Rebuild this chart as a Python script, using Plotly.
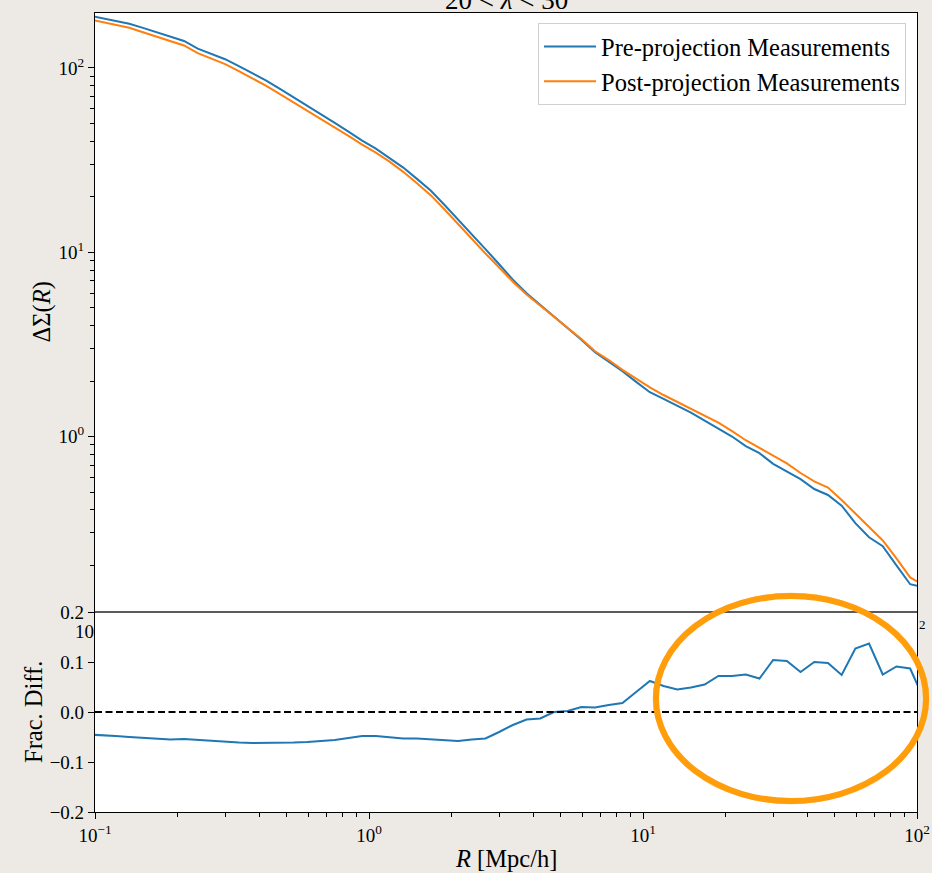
import plotly.graph_objects as go

# ---------------- data ----------------
R = [0.0944, 0.1059, 0.1189, 0.1334, 0.1496, 0.1679, 0.1884, 0.2113, 0.2371, 0.2661,
     0.2985, 0.3350, 0.3758, 0.4217, 0.4732, 0.5309, 0.5957, 0.6683, 0.7499, 0.8414,
     0.9441, 1.0593, 1.1885, 1.3335, 1.4962, 1.6788, 1.8836, 2.1135, 2.3714, 2.6607,
     2.9854, 3.3497, 3.7584, 4.2170, 4.7315, 5.3088, 5.9566, 6.6834, 7.4989, 8.4140,
     9.4406, 10.593, 11.885, 13.335, 14.962, 16.788, 18.836, 21.135, 23.714, 26.607,
     29.854, 33.497, 37.584, 42.170, 47.315, 53.088, 59.566, 66.834, 74.989, 84.140,
     94.406, 105.93]

pre_projection = [193.0, 186.6, 180.0, 173.7, 164.9, 156.5, 148.4, 140.0, 127.3, 119.3,
                  111.5, 102.4, 93.9, 85.2, 76.9, 69.3, 62.1, 55.8, 50.3, 45.1,
                  40.3, 36.5, 32.6, 28.8, 25.0, 21.6, 18.1, 15.1, 12.5, 10.4,
                  8.61, 7.10, 5.99, 5.19, 4.49, 3.89, 3.35, 2.87, 2.56, 2.26,
                  1.98, 1.74, 1.60, 1.47, 1.35, 1.22, 1.11, 1.00, 0.888, 0.813,
                  0.711, 0.649, 0.587, 0.519, 0.482, 0.422, 0.339, 0.284, 0.254, 0.200,
                  0.158, 0.152]

post_projection = [184.3, 178.0, 171.4, 165.0, 156.3, 148.2, 140.2, 132.4, 120.2, 112.4,
                   104.9, 96.2, 88.1, 79.9, 72.1, 65.1, 58.4, 52.6, 47.5, 42.8,
                   38.4, 34.7, 31.0, 27.3, 23.7, 20.4, 17.1, 14.2, 11.8, 9.85,
                   8.27, 6.92, 5.90, 5.12, 4.49, 3.90, 3.38, 2.90, 2.60, 2.30,
                   2.06, 1.85, 1.68, 1.54, 1.42, 1.29, 1.19, 1.07, 0.955, 0.867,
                   0.785, 0.715, 0.634, 0.571, 0.529, 0.453, 0.382, 0.323, 0.273, 0.218,
                   0.172, 0.156]

frac_diff = [-0.045, -0.046, -0.048, -0.050, -0.052, -0.053, -0.055, -0.054, -0.056, -0.058,
             -0.059, -0.061, -0.062, -0.062, -0.062, -0.061, -0.060, -0.058, -0.056, -0.052,
             -0.048, -0.048, -0.050, -0.053, -0.053, -0.055, -0.057, -0.058, -0.055, -0.053,
             -0.040, -0.026, -0.015, -0.013, 0.000, 0.002, 0.010, 0.009, 0.014, 0.018,
             0.040, 0.062, 0.052, 0.045, 0.049, 0.055, 0.072, 0.072, 0.075, 0.067,
             0.104, 0.102, 0.080, 0.100, 0.098, 0.074, 0.127, 0.137, 0.075, 0.091,
             0.087, 0.026]

top_y_tickvals = [1, 10, 100]
top_y_ticktext = ["10<sup>0</sup>", "10<sup>1</sup>", "10<sup>2</sup>"]
x_tickvals = [0.1, 1, 10, 100]
x_ticktext = ["10<sup>\u22121</sup>", "10<sup>0</sup>", "10<sup>1</sup>", "10<sup>2</sup>"]
bot_y_tickvals = [-0.2, -0.1, 0.0, 0.1, 0.2]
bot_y_ticktext = ["\u22120.2", "\u22120.1", "0.0", "0.1", "0.2"]
minor_log = [m * 10 ** e for e in (-1, 0, 1) for m in range(2, 10)]

# ---------------- layout geometry ----------------
W, H = 932, 873
ML, MR, MT, MB = 95, 15, 13, 61
PW, PH = W - ML - MR, H - MT - MB


def px_x(px):
    return (px - ML) / PW


def px_y(py):
    return (H - MB - py) / PH


split = px_y(612)
FONT = "Liberation Serif, Times New Roman, serif"
BG = "#edeae5"
LABEL_SIZE = 24.5

fig = go.Figure()
fig.add_trace(go.Scatter(x=R, y=pre_projection, mode="lines", name="Pre-projection Measurements",
                         line=dict(color="#1f77b4", width=2), xaxis="x", yaxis="y"))
fig.add_trace(go.Scatter(x=R, y=post_projection, mode="lines", name="Post-projection Measurements",
                         line=dict(color="#ff7f0e", width=2), xaxis="x", yaxis="y"))
fig.add_trace(go.Scatter(x=R, y=frac_diff, mode="lines", showlegend=False,
                         line=dict(color="#1f77b4", width=2), xaxis="x2", yaxis="y2"))

axis_common = dict(showgrid=False, zeroline=False, showline=True, linecolor="black",
                   linewidth=1.2, mirror=True, tickcolor="black", tickwidth=1.2,
                   automargin=False,
                   tickfont=dict(family=FONT, size=19, color="black"))

fig.update_layout(
    width=W, height=H, autosize=False,
    margin=dict(l=ML, r=MR, t=MT, b=MB, autoexpand=False),
    paper_bgcolor=BG, plot_bgcolor="white",
    font=dict(family=FONT, color="black"),
    xaxis=dict(type="log", range=[-1, 2], domain=[0, 1], anchor="y",
               showticklabels=False, ticks="", **axis_common),
    yaxis=dict(type="log", range=[-0.952, 2.298], domain=[split, 1], anchor="x",
               tickvals=top_y_tickvals, ticktext=top_y_ticktext, ticks="outside", ticklen=6,
               minor=dict(tickvals=minor_log + [m * 100 for m in range(2, 10)],
                          ticks="outside", ticklen=3.5, tickcolor="black", tickwidth=1),
               **axis_common),
    xaxis2=dict(type="log", range=[-1, 2], domain=[0, 1], anchor="y2",
                tickvals=x_tickvals, ticktext=x_ticktext, ticks="outside", ticklen=6,
                minor=dict(tickvals=minor_log, ticks="outside", ticklen=3.5,
                           tickcolor="black", tickwidth=1),
                **axis_common),
    yaxis2=dict(range=[-0.2, 0.2], domain=[0, split], anchor="x2",
                tickvals=bot_y_tickvals, ticktext=bot_y_ticktext, ticks="outside", ticklen=6,
                **axis_common),
    legend=dict(x=px_x(906), xanchor="right", y=px_y(23), yanchor="top",
                bgcolor="white", bordercolor="#d0d0d0", borderwidth=1, itemwidth=52,
                font=dict(family=FONT, size=24.5, color="black")),
    showlegend=True,
)

# zero reference line in the lower panel
fig.add_shape(type="line", xref="x2 domain", x0=0, x1=1, yref="y2", y0=0, y1=0,
              line=dict(color="black", width=2, dash="7px,3.5px"))
# grey separator between panels
fig.add_shape(type="line", xref="paper", x0=0, x1=1, yref="paper", y0=split, y1=split,
              line=dict(color="#5a5a5a", width=2), layer="above")

# hand-drawn orange ellipse
fig.add_shape(type="circle", xref="paper", yref="paper",
              x0=px_x(656), x1=px_x(926), y0=px_y(801), y1=px_y(596),
              line=dict(color="#ff9d0a", width=6), layer="above")
fig.add_shape(type="circle", xref="paper", yref="paper",
              x0=px_x(654), x1=px_x(928), y0=px_y(803), y1=px_y(594),
              line=dict(color="#ff9d0a", width=2.5), opacity=0.6, layer="above")

ann = [
    dict(text="20 < <i>\u03bb</i> < 30", x=0.5, y=1, xref="paper", yref="paper",
         xanchor="center", yanchor="bottom", yshift=-4, showarrow=False,
         font=dict(family=FONT, size=27, color="black")),
    dict(text="\u0394\u03a3(<i>R</i>)", x=0, xref="paper", xshift=41 - ML,
         y=(split + 1) / 2, yref="paper", textangle=-90, xanchor="center", yanchor="middle",
         showarrow=False, font=dict(family=FONT, size=LABEL_SIZE, color="black")),
    dict(text="Frac. Diff.", x=0, xref="paper", xshift=33 - ML,
         y=split / 2, yref="paper", textangle=-90, xanchor="center", yanchor="middle",
         showarrow=False, font=dict(family=FONT, size=LABEL_SIZE, color="black")),
    dict(text="<i>R</i> [Mpc/h]", x=0.5, xref="paper", y=0, yref="paper", yshift=-(858 - (H - MB)),
         xanchor="center", yanchor="middle", showarrow=False,
         font=dict(family=FONT, size=LABEL_SIZE, color="black")),
    # top-panel x tick labels peeking out from behind the lower panel
    dict(text="10", x=0, xref="paper", xanchor="right", xshift=1, y=px_y(631), yref="paper",
         yanchor="middle", showarrow=False, font=dict(family=FONT, size=19, color="black")),
    dict(text="2", x=1, xref="paper", xanchor="left", xshift=0, y=px_y(624), yref="paper",
         yanchor="middle", showarrow=False, font=dict(family=FONT, size=13, color="black")),
]
fig.update_layout(annotations=ann)

fig.write_html(
    "out.html",
    config={"displayModeBar": False},
    post_script="document.body.style.margin='0';document.body.style.background='" + BG + "';",
)
